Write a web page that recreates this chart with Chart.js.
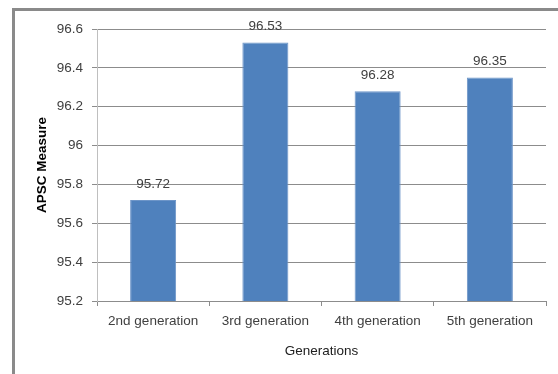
<!DOCTYPE html>
<html>
<head>
<meta charset="utf-8">
<script src="https://cdn.jsdelivr.net/npm/chart.js@4/dist/chart.umd.min.js"></script>
<style>
html,body{margin:0;padding:0;background:#fff;}
#wrap{position:relative;width:558px;height:374px;}
</style>
</head>
<body>
<div id="wrap"><canvas id="c" width="558" height="374"></canvas></div>
<script>
const categories = ["2nd generation", "3rd generation", "4th generation", "5th generation"];
const apscValues = [95.72, 96.53, 96.28, 96.35];
const yTicks = [95.2, 95.4, 95.6, 95.8, 96, 96.2, 96.4, 96.6];
const yTitle = "APSC Measure";
const xTitle = "Generations";

const FONT = "'Liberation Sans', Arial, sans-serif";

const framePlugin = {
  id: 'frame',
  beforeDraw(chart) {
    const ctx = chart.ctx;
    ctx.save();
    ctx.fillStyle = '#ffffff';
    ctx.fillRect(0, 0, chart.width, chart.height);
    ctx.strokeStyle = '#8a8a8a';
    ctx.lineWidth = 3;
    ctx.beginPath();
    ctx.moveTo(13.5, chart.height);
    ctx.lineTo(13.5, 9.5);
    ctx.lineTo(chart.width, 9.5);
    ctx.stroke();
    ctx.restore();
  }
};

const labelPlugin = {
  id: 'valueLabels',
  afterDatasetsDraw(chart) {
    const ctx = chart.ctx;
    const meta = chart.getDatasetMeta(0);
    ctx.save();
    ctx.font = '13.5px ' + FONT;
    ctx.fillStyle = '#404040';
    ctx.textAlign = 'center';
    ctx.textBaseline = 'middle';
    meta.data.forEach((bar, i) => {
      ctx.fillText(apscValues[i].toFixed(2), bar.x, bar.y - 16);
    });
    ctx.restore();
  }
};

new Chart(document.getElementById('c'), {
  type: 'bar',
  data: {
    labels: categories,
    datasets: [{
      data: apscValues,
      backgroundColor: '#4F81BD',
      borderColor: '#6d95c8',
      borderWidth: 1,
      barPercentage: 0.41,
      categoryPercentage: 1.0
    }]
  },
  options: {
    responsive: false,
    animation: false,
    devicePixelRatio: 1,
    layout: { padding: { left: 0, right: 12, top: 29, bottom: 0 } },
    plugins: { legend: { display: false }, tooltip: { enabled: false } },
    scales: {
      x: {
        offset: true,
        grid: { display: true, drawOnChartArea: false, offset: true, tickLength: 5, color: '#8c8c8c' },
        border: { color: '#8c8c8c', width: 1 },
        ticks: { font: { family: FONT, size: 13.5 }, color: '#404040', padding: 7, maxRotation: 0 },
        title: { display: true, text: xTitle, font: { family: FONT, size: 13.5 }, color: '#202020', padding: { top: 4, bottom: 15 } },
        afterFit(scale) { scale.height = 73; }
      },
      y: {
        min: 95.2,
        max: 96.6,
        afterBuildTicks(scale) { scale.ticks = yTicks.map(v => ({ value: v })); },
        grid: { color: '#8c8c8c', tickLength: 5 },
        border: { color: '#bfbfbf', width: 1 },
        ticks: {
          font: { family: FONT, size: 13.5 }, color: '#404040', padding: 9,
          callback: (v) => String(Math.round(v * 10) / 10)
        },
        title: { display: true, text: yTitle, font: { family: FONT, size: 13.5, weight: 'bold' }, color: '#000000', padding: { top: 34, bottom: 0 } },
        afterFit(scale) { scale.width = 97; }
      }
    }
  },
  plugins: [framePlugin, labelPlugin]
});
</script>
</body>
</html>
